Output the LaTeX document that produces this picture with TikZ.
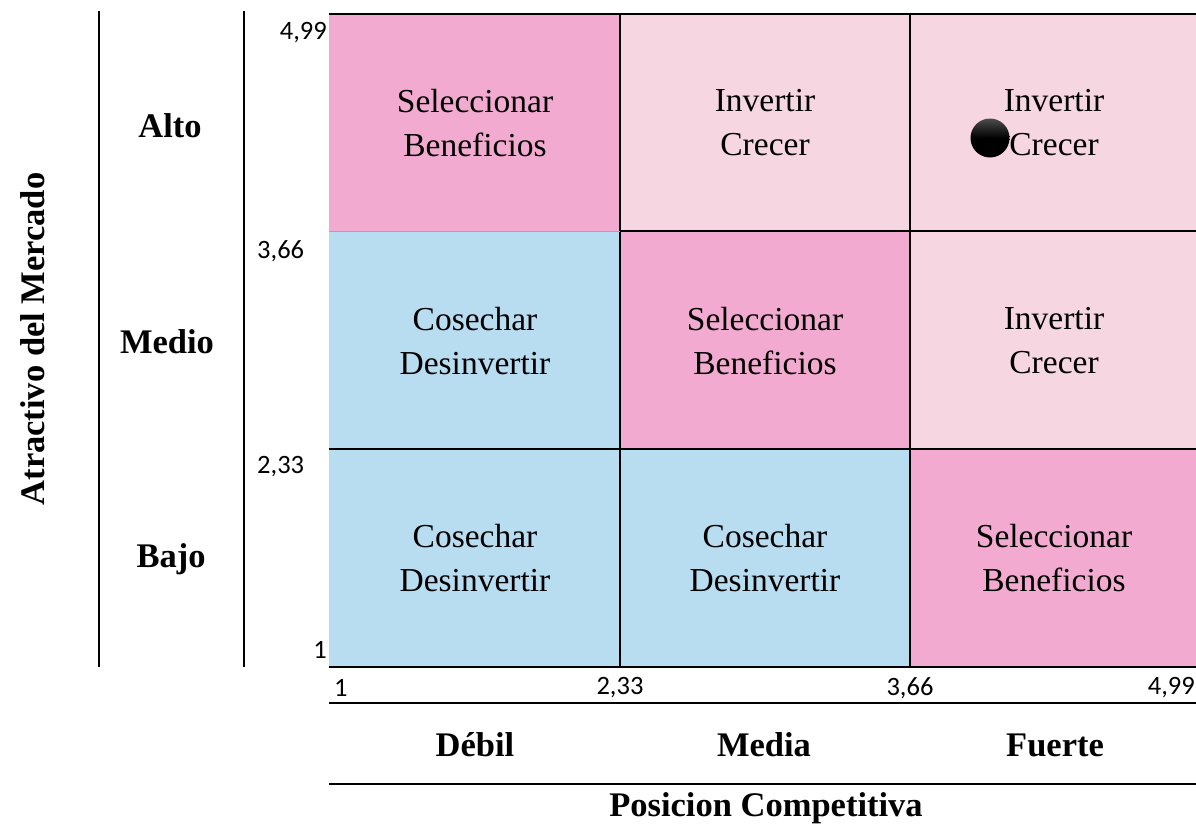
\documentclass[tikz,border=0pt]{standalone}
\usepackage{fontspec}
\setmainfont{Liberation Serif}
\newfontfamily\calfont{Carlito}
\usetikzlibrary{shadings}
\definecolor{pinkD}{RGB}{242,170,208}
\definecolor{pinkL}{RGB}{246,214,224}
\definecolor{blueC}{RGB}{184,220,240}
\tikzset{
  cell/.style={align=center,font=\fontsize{33.5}{44}\selectfont,inner sep=0pt},
  lbl/.style={font=\fontsize{34.5}{40}\selectfont\bfseries,inner sep=0pt},
  tick/.style={font=\calfont\fontsize{26.5}{30}\selectfont,inner sep=0pt},
  gridline/.style={line width=2pt,black},
}
\begin{document}
\begin{tikzpicture}[x=1pt,y=-1pt]
\useasboundingbox (0,0) rectangle (1196,825);
% cells
\fill[pinkD] (329,14) rectangle (620,231);
\fill[pinkL] (620,14) rectangle (910,231);
\fill[pinkL] (910,14) rectangle (1196,231);
\fill[blueC] (329,231) rectangle (620,449);
\fill[pinkD] (620,231) rectangle (910,449);
\fill[pinkL] (910,231) rectangle (1196,449);
\fill[blueC] (329,449) rectangle (620,667);
\fill[blueC] (620,449) rectangle (910,667);
\fill[pinkD] (910,449) rectangle (1196,667);
% grid lines
\draw[gridline] (329,14) -- (1196,14);
\draw[gridline] (620,14) -- (620,667);
\draw[gridline] (910,14) -- (910,667);
\draw[line width=1pt,gray!70] (329,231) -- (620,231);
\draw[gridline] (620,231) -- (1196,231);
\draw[gridline] (329,449) -- (1196,449);
\draw[gridline] (329,667) -- (1196,667);
\draw[gridline] (329,703) -- (1196,703);
\draw[gridline] (329,784) -- (1196,784);
\draw[gridline] (99,11) -- (99,667);
\draw[gridline] (244,11) -- (244,667);
% cell texts
\node[cell] (c11) at (475,123) {Seleccionar\\Beneficios};
\node[cell] (c12) at (765,123) {Invertir\\Crecer};
\node[cell] (c13) at (1054,123) {Invertir\\Crecer};
\node[cell] (c21) at (475,341) {Cosechar\\Desinvertir};
\node[cell] (c22) at (765,341) {Seleccionar\\Beneficios};
\node[cell] (c23) at (1054,341) {Invertir\\Crecer};
\node[cell] (c31) at (475,558) {Cosechar\\Desinvertir};
\node[cell] (c32) at (765,558) {Cosechar\\Desinvertir};
\node[cell] (c33) at (1054,558) {Seleccionar\\Beneficios};
% ball
\shade[top color=black!70, bottom color=black, middle color=black] (990,138) circle (19.5);
% row labels
\node[lbl] (alto) at (170,126) {Alto};
\node[lbl] (medio) at (167,342) {Medio};
\node[lbl] (bajo) at (171,559) {Bajo};
\node[lbl,rotate=90] (yax) at (33,339) {Atractivo del Mercado};
% column labels
\node[lbl] (debil) at (475,745) {Débil};
\node[lbl] (media) at (764,745) {Media};
\node[lbl] (fuerte) at (1055,745) {Fuerte};
\node[lbl] (xax) at (766,808) {Posicion Competitiva};
% ticks
\node[tick,anchor=east] (ty4) at (327,33) {4,99};
\node[tick,anchor=west] (ty3) at (257,251) {3,66};
\node[tick,anchor=west] (ty2) at (257,467) {2,33};
\node[tick,anchor=east] (ty1) at (327,650) {1};
\node[tick,anchor=west] (tx1) at (334,688) {1};
\node[tick] (tx2) at (620,688) {2,33};
\node[tick] (tx3) at (910,688) {3,66};
\node[tick,anchor=east] (tx4) at (1195,688) {4,99};
\end{tikzpicture}
\end{document}
